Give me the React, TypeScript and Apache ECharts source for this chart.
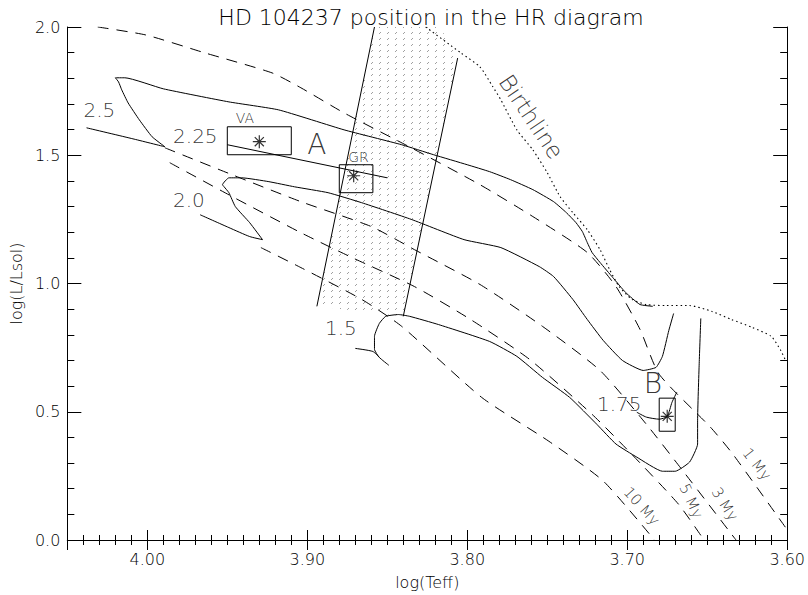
import React, { useEffect, useRef } from "react";
import * as echarts from "echarts";

// ---- axes ----
const X_MIN = 3.6;
const X_MAX = 4.05;
const Y_MIN = 0;
const Y_MAX = 2;

// ---- evolutionary tracks (logTeff, logL) ----
const track250 = [
  [4.038, 1.607], [4.009, 1.564], [3.989, 1.533], [3.997, 1.572], [4.005, 1.638],
  [4.012, 1.704], [4.016, 1.755], [4.018, 1.786], [4.02, 1.802], [4.014, 1.802],
  [3.99, 1.759], [3.949, 1.708], [3.918, 1.677], [3.877, 1.599], [3.841, 1.541],
  [3.821, 1.502], [3.8, 1.463], [3.786, 1.436], [3.773, 1.405], [3.759, 1.366],
  [3.746, 1.319], [3.738, 1.276], [3.732, 1.237], [3.728, 1.202], [3.725, 1.16],
  [3.722, 1.121], [3.717, 1.082], [3.709, 1.023], [3.701, 0.965], [3.692, 0.918],
  [3.684, 0.911],
];
const track225 = [[3.95, 1.541], [3.85, 1.412]];
const track200Tail = [[3.967, 1.268], [3.949, 1.218], [3.936, 1.183], [3.928, 1.171]];
const track200 = [
  [3.928, 1.171], [3.936, 1.237],
  [3.945, 1.3], [3.949, 1.354], [3.952, 1.377], [3.953, 1.385], [3.949, 1.412],
  [3.941, 1.412], [3.924, 1.397], [3.908, 1.377], [3.887, 1.354], [3.866, 1.315],
  [3.835, 1.25], [3.802, 1.171], [3.779, 1.14], [3.755, 1.066], [3.746, 1.027],
  [3.734, 0.938], [3.725, 0.86], [3.715, 0.778], [3.703, 0.7], [3.69, 0.661],
  [3.682, 0.673], [3.678, 0.716], [3.674, 0.817], [3.671, 0.883],
];
const track175 = [
  [3.694, 0.498], [3.688, 0.479], [3.68, 0.471], [3.675, 0.482], [3.672, 0.537], [3.669, 0.576],
];
const track150Tail = [[3.87, 0.747], [3.859, 0.735], [3.855, 0.712]];
const track150 = [
  [3.849, 0.681], [3.855, 0.712],
  [3.858, 0.743], [3.858, 0.794], [3.855, 0.844], [3.851, 0.872], [3.843, 0.879],
  [3.836, 0.872], [3.818, 0.84], [3.786, 0.774], [3.769, 0.716], [3.753, 0.634],
  [3.736, 0.556], [3.719, 0.451], [3.707, 0.374], [3.694, 0.323], [3.678, 0.268],
  [3.67, 0.268], [3.661, 0.304], [3.656, 0.374], [3.656, 0.467], [3.655, 0.689],
  [3.654, 0.864],
];

// ---- isochrones ----
const iso1 = [
  [4.031, 2.0], [4.001, 1.969], [3.964, 1.899], [3.922, 1.821], [3.904, 1.763],
  [3.877, 1.665], [3.835, 1.529], [3.792, 1.385], [3.759, 1.261], [3.725, 1.121],
  [3.707, 0.988], [3.692, 0.821], [3.68, 0.646], [3.648, 0.44], [3.634, 0.335],
  [3.6, 0.04],
];
const iso3 = [
  [3.989, 1.529], [3.947, 1.424], [3.904, 1.319], [3.86, 1.222], [3.833, 1.132],
  [3.792, 0.996], [3.753, 0.833], [3.717, 0.661], [3.688, 0.451], [3.665, 0.268],
  [3.632, 0.0],
];
const iso5 = [
  [3.986, 1.471], [3.947, 1.339], [3.904, 1.198], [3.872, 1.101], [3.833, 0.988],
  [3.798, 0.86], [3.761, 0.704], [3.722, 0.49], [3.699, 0.346], [3.668, 0.14],
  [3.652, 0.0],
];
const iso10 = [
  [3.929, 1.14], [3.904, 1.062], [3.866, 0.938], [3.841, 0.833],
  [3.791, 0.556], [3.749, 0.385], [3.715, 0.23], [3.683, 0.0],
];

// ---- birthline ----
const birthline = [
  [3.826, 2.0], [3.804, 1.899], [3.792, 1.844], [3.784, 1.767], [3.779, 1.716],
  [3.769, 1.599], [3.759, 1.521], [3.75, 1.432], [3.742, 1.339], [3.734, 1.276],
  [3.725, 1.21], [3.717, 1.132], [3.711, 1.054], [3.705, 0.988], [3.697, 0.938],
  [3.688, 0.918], [3.676, 0.914], [3.661, 0.914], [3.647, 0.891], [3.635, 0.86],
  [3.622, 0.829], [3.61, 0.794], [3.604, 0.739], [3.601, 0.7],
];

// ---- shaded band ----
const band = [[3.858, 2.0], [3.817, 2.0], [3.806, 1.879], [3.84, 0.872], [3.894, 0.911]];
const bandLeftEdge = [[3.858, 2.0], [3.894, 0.911]];
const bandRightEdge = [[3.806, 1.879], [3.84, 0.872]];

// ---- stars: name, logTeff, logL, box [xLeft, xRight, yLow, yHigh] ----
const starNames = ["VA", "GR", "B"];
const starPos = [[3.93, 1.553], [3.871, 1.42], [3.675, 0.482]];
const starBoxes = [
  [3.95, 3.91, 1.502, 1.611],
  [3.88, 3.859, 1.354, 1.463],
  [3.68, 3.67, 0.424, 0.553],
];

// ---- annotations: text, logTeff, logL, fontSize, rotation ----
const annotations: [string, number, number, number, number][] = [
  ["2.5", 4.03, 1.677, 20, 0],
  ["2.25", 3.97, 1.576, 20, 0],
  ["2.0", 3.974, 1.327, 20, 0],
  ["1.5", 3.879, 0.825, 20, 0],
  ["1.75", 3.705, 0.529, 20, 0],
  ["A", 3.894, 1.541, 28, 0],
  ["B", 3.684, 0.611, 28, 0],
  ["VA", 3.939, 1.646, 14, 0],
  ["GR", 3.868, 1.494, 14, 0],
  ["Birthline", 3.76, 1.65, 23, -56],
  ["10 My", 3.691, 0.132, 15, -48],
  ["5 My", 3.66, 0.152, 15, -65],
  ["3 My", 3.639, 0.14, 15, -58],
  ["1 My", 3.619, 0.296, 15, -52],
];

const FONT = "DejaVu Sans";
const WEIGHT = 200;
const BLACK = "#000";

function makePattern() {
  const c = document.createElement("canvas");
  c.width = 8;
  c.height = 6;
  const g = c.getContext("2d")!;
  g.fillStyle = "#a0a0a0";
  g.fillRect(3, 3, 1, 1);
  g.fillRect(4, 2, 1, 1);
  return { image: c, repeat: "repeat", imageWidth: 8, imageHeight: 6 } as any;
}

function lineSeries(data: number[][], type: any, smooth: number = 0.2, width = 1, z = 3) {
  return {
    type: "line",
    data,
    showSymbol: false,
    symbol: "none",
    smooth,
    silent: true,
    z,
    lineStyle: { color: BLACK, width, type },
  };
}

function boxData(b: number[]) {
  return [[b[0], b[2]], [b[1], b[2]], [b[1], b[3]], [b[0], b[3]], [b[0], b[2]]];
}

export default function App() {
  const ref = useRef<HTMLDivElement>(null);
  useEffect(() => {
    const chart = echarts.init(ref.current!, null, { renderer: "svg" });
    const pattern = makePattern();
    const xCommon = {
      type: "value",
      min: X_MIN,
      max: X_MAX,
      inverse: true,
      splitLine: { show: false },
    };
    const yCommon = { type: "value", min: Y_MIN, max: Y_MAX, splitLine: { show: false } };
    const lineAx = { show: true, lineStyle: { color: BLACK, width: 1 } };
    const textBase = { fontFamily: FONT, fontWeight: WEIGHT, color: BLACK };
    const option: any = {
      animation: false,
      backgroundColor: "#fff",
      title: {
        text: "HD 104237 position in the HR diagram",
        left: 426,
        top: 1,
        textAlign: "center",
        textStyle: { ...textBase, fontSize: 22 },
      },
      grid: { left: 64, right: 19, top: 27, bottom: 54 },
      xAxis: [
        {
          ...xCommon,
          position: "bottom",
          interval: 0.1,
          axisLine: lineAx,
          axisTick: { show: true, inside: true, length: 10, interval: 0, lineStyle: { color: BLACK } },
          axisLabel: {
            show: true,
            interval: 0,
            margin: 11,
            ...textBase,
            fontSize: 16,
            formatter: (v: number) => (Math.abs(v - X_MAX) < 1e-6 ? "" : v.toFixed(2)),
          },
          name: "log(Teff)",
          nameLocation: "middle",
          nameGap: 34,
          nameTextStyle: { ...textBase, fontSize: 16 },
        },
        {
          ...xCommon,
          position: "bottom",
          interval: 0.01,
          axisLine: { show: false },
          axisTick: { show: true, inside: true, length: 5, interval: 0, lineStyle: { color: BLACK } },
          axisLabel: { show: false, interval: 0 },
        },
        {
          ...xCommon,
          position: "top",
          interval: 0.1,
          axisLine: lineAx,
          axisTick: { show: true, inside: true, length: 10, interval: 0, lineStyle: { color: BLACK } },
          axisLabel: { show: false, interval: 0 },
        },
        {
          ...xCommon,
          position: "top",
          interval: 0.01,
          axisLine: { show: false },
          axisTick: { show: true, inside: true, length: 5, interval: 0, lineStyle: { color: BLACK } },
          axisLabel: { show: false, interval: 0 },
        },
      ],
      yAxis: [
        {
          ...yCommon,
          position: "left",
          interval: 0.5,
          axisLine: lineAx,
          axisTick: { show: true, inside: true, length: 14, interval: 0, lineStyle: { color: BLACK } },
          axisLabel: {
            show: true,
            interval: 0,
            margin: 7,
            ...textBase,
            fontSize: 16,
            formatter: (v: number) => v.toFixed(1),
          },
          name: "log(L/Lsol)",
          nameLocation: "middle",
          nameRotate: 90,
          nameGap: 34,
          nameTextStyle: { ...textBase, fontSize: 16 },
        },
        {
          ...yCommon,
          position: "left",
          interval: 0.1,
          axisLine: { show: false },
          axisTick: { show: true, inside: true, length: 7, interval: 0, lineStyle: { color: BLACK } },
          axisLabel: { show: false, interval: 0 },
        },
        {
          ...yCommon,
          position: "right",
          interval: 0.5,
          axisLine: lineAx,
          axisTick: { show: true, inside: true, length: 14, interval: 0, lineStyle: { color: BLACK } },
          axisLabel: { show: false, interval: 0 },
        },
        {
          ...yCommon,
          position: "right",
          interval: 0.1,
          axisLine: { show: false },
          axisTick: { show: true, inside: true, length: 7, interval: 0, lineStyle: { color: BLACK } },
          axisLabel: { show: false, interval: 0 },
        },
      ],
      series: [
        {
          type: "custom",
          silent: true,
          z: 1,
          clip: true,
          data: [band[0]],
          renderItem: (_p: any, api: any) => ({
            type: "polygon",
            shape: { points: band.map((pt) => api.coord(pt)) },
            style: { fill: pattern, stroke: "none" },
          }),
        },
        lineSeries(bandLeftEdge, "solid", 0),
        lineSeries(bandRightEdge, "solid", 0),
        lineSeries(track250, "solid", 0.15),
        lineSeries(track225, "solid", 0),
        lineSeries(track200Tail, "solid", 0.2),
        lineSeries(track200, "solid", 0.15),
        lineSeries(track175, "solid", 0.2),
        lineSeries(track150Tail, "solid", 0.2),
        lineSeries(track150, "solid", 0.15),
        lineSeries(iso1, [11, 8], 0.2),
        lineSeries(iso3, [11, 8], 0.2),
        lineSeries(iso5, [11, 8], 0.2),
        lineSeries(iso10, [11, 8], 0.2),
        lineSeries(birthline, [1.5, 3], 0.2, 1.1),
        ...starBoxes.map((b) => lineSeries(boxData(b), "solid", 0)),
        {
          type: "scatter",
          silent: true,
          z: 5,
          data: starPos.map((p, i) => ({ name: starNames[i], value: p })),
          symbol: "path://M5 0L5 10M0 5L10 5M1.5 1.5L8.5 8.5M1.5 8.5L8.5 1.5",
          symbolSize: 13,
          itemStyle: { color: "none", borderColor: BLACK, borderWidth: 1.2 },
        },
        {
          type: "scatter",
          silent: true,
          z: 6,
          symbolSize: 2,
          itemStyle: { color: "rgba(0,0,0,0)" },
          data: annotations.map((a) => ({
            value: [a[1], a[2]],
            label: {
              show: true,
              position: "inside",
              formatter: a[0],
              fontSize: a[3],
              rotate: a[4],
              ...textBase,
            },
          })),
        },
      ],
    };
    chart.setOption(option);
    return () => chart.dispose();
  }, []);
  return (
    <div
      ref={ref}
      style={{ position: "fixed", left: 0, top: 0, width: 808, height: 595, background: "#fff" }}
    />
  );
}
